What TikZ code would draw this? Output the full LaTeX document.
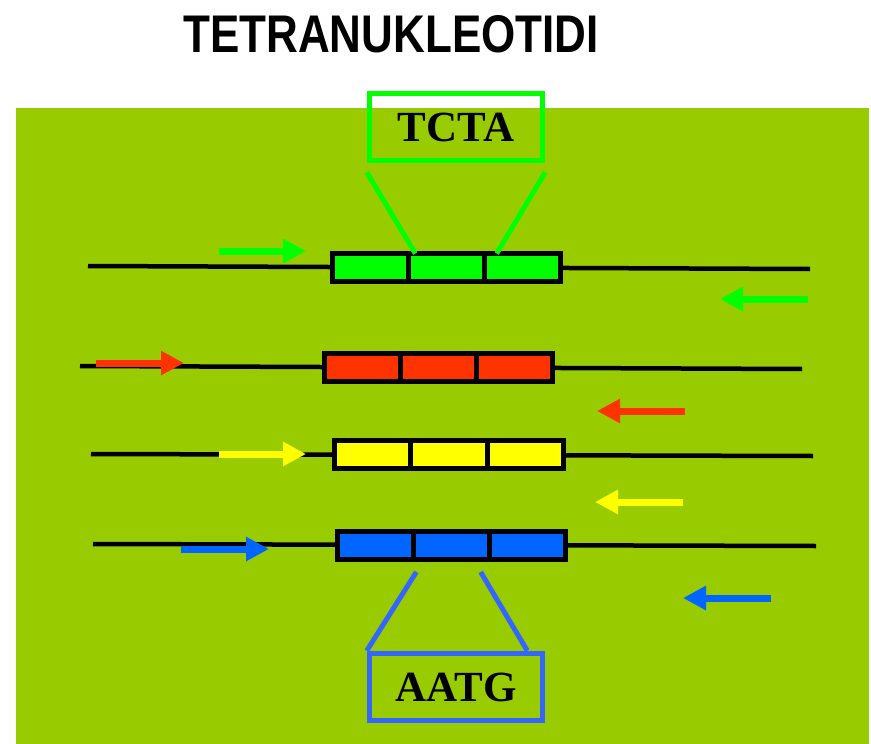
\documentclass[tikz,border=0pt]{standalone}
\usepackage{fontspec}
\setmainfont{Liberation Serif}
\newfontfamily\titlefont[FakeStretch=0.83]{Liberation Sans}
\usetikzlibrary{arrows.meta}

\definecolor{slidebg}{HTML}{99CC00}
\definecolor{tetgreen}{HTML}{00FF00}
\definecolor{tetred}{HTML}{FF3300}
\definecolor{tetyellow}{HTML}{FFFF00}
\definecolor{tetblue}{HTML}{0066FF}
\definecolor{motifblue}{HTML}{3366FF}

\tikzset{
  seg/.style={draw=black,line width=5pt,minimum width=76.3pt,minimum height=28pt,inner sep=0pt,outer sep=0pt},
  strand/.style={line width=4.5pt,black},
  dir/.style={line width=7pt,-{Triangle[length=23pt,width=23pt]}},
  motif/.style={draw,line width=5.5pt,minimum width=173pt,minimum height=67pt,inner sep=0pt,
    font=\bfseries\fontsize{43}{43}\selectfont},
  zoomline/.style={line width=5pt}
}

\begin{document}
\begin{tikzpicture}[x=1pt,y=-1pt]
\useasboundingbox (0,0) rectangle (871,744);
\fill[slidebg] (16,108) rectangle (869,744);
\node[font=\titlefont\bfseries\fontsize{53}{53}\selectfont] (title) at (391,34){TETRANUKLEOTIDI};

% strands
\draw[strand] (88,266)--(810,269); \draw[strand] (80,366)--(802,369);
\draw[strand] (91,454)--(813,456); \draw[strand] (93,544)--(816,546);

% repeat units, three per strand
\node[seg,fill=tetgreen] (g1b) at (446.5,267.5){};
\node[seg,fill=tetgreen,anchor=east] (g1a) at (g1b.west){};
\node[seg,fill=tetgreen,anchor=west] (g1c) at (g1b.east){};
\node[seg,fill=tetred] (g2b) at (438.5,367.5){};
\node[seg,fill=tetred,anchor=east] (g2a) at (g2b.west){};
\node[seg,fill=tetred,anchor=west] (g2c) at (g2b.east){};
\node[seg,fill=tetyellow] (g3b) at (449,454.5){};
\node[seg,fill=tetyellow,anchor=east] (g3a) at (g3b.west){};
\node[seg,fill=tetyellow,anchor=west] (g3c) at (g3b.east){};
\node[seg,fill=tetblue] (g4b) at (451.5,545){};
\node[seg,fill=tetblue,anchor=east] (g4a) at (g4b.west){};
\node[seg,fill=tetblue,anchor=west] (g4c) at (g4b.east){};

% reading directions
\draw[dir,tetgreen] (219,251)--(306,251); \draw[dir,tetgreen] (808,299)--(720,299);
\draw[dir,tetred] (96,363)--(184,363); \draw[dir,tetred] (685,411)--(597,411);
\draw[dir,tetyellow] (219,454)--(306,454); \draw[dir,tetyellow] (683,502)--(595,502);
\draw[dir,tetblue] (181,549)--(269,549); \draw[dir,tetblue] (771,598)--(683,598);

% motif call-outs
\node[motif,draw=tetgreen] (tcta) at (456,127){TCTA};
\draw[zoomline,tetgreen] ([yshift=-9pt]tcta.south west)--([xshift=7pt]g1b.north west);
\draw[zoomline,tetgreen] ([yshift=-9pt]tcta.south east)--([xshift=12pt]g1c.north west);
\node[motif,draw=motifblue] (aatg) at (456,687){AATG};
\draw[zoomline,motifblue] ([xshift=3pt,yshift=-13pt]g4b.south west)--(aatg.north west);
\draw[zoomline,motifblue] ([xshift=-9pt,yshift=-13pt]g4b.south east)--([xshift=-18pt]aatg.north east);
\end{tikzpicture}
\end{document}
